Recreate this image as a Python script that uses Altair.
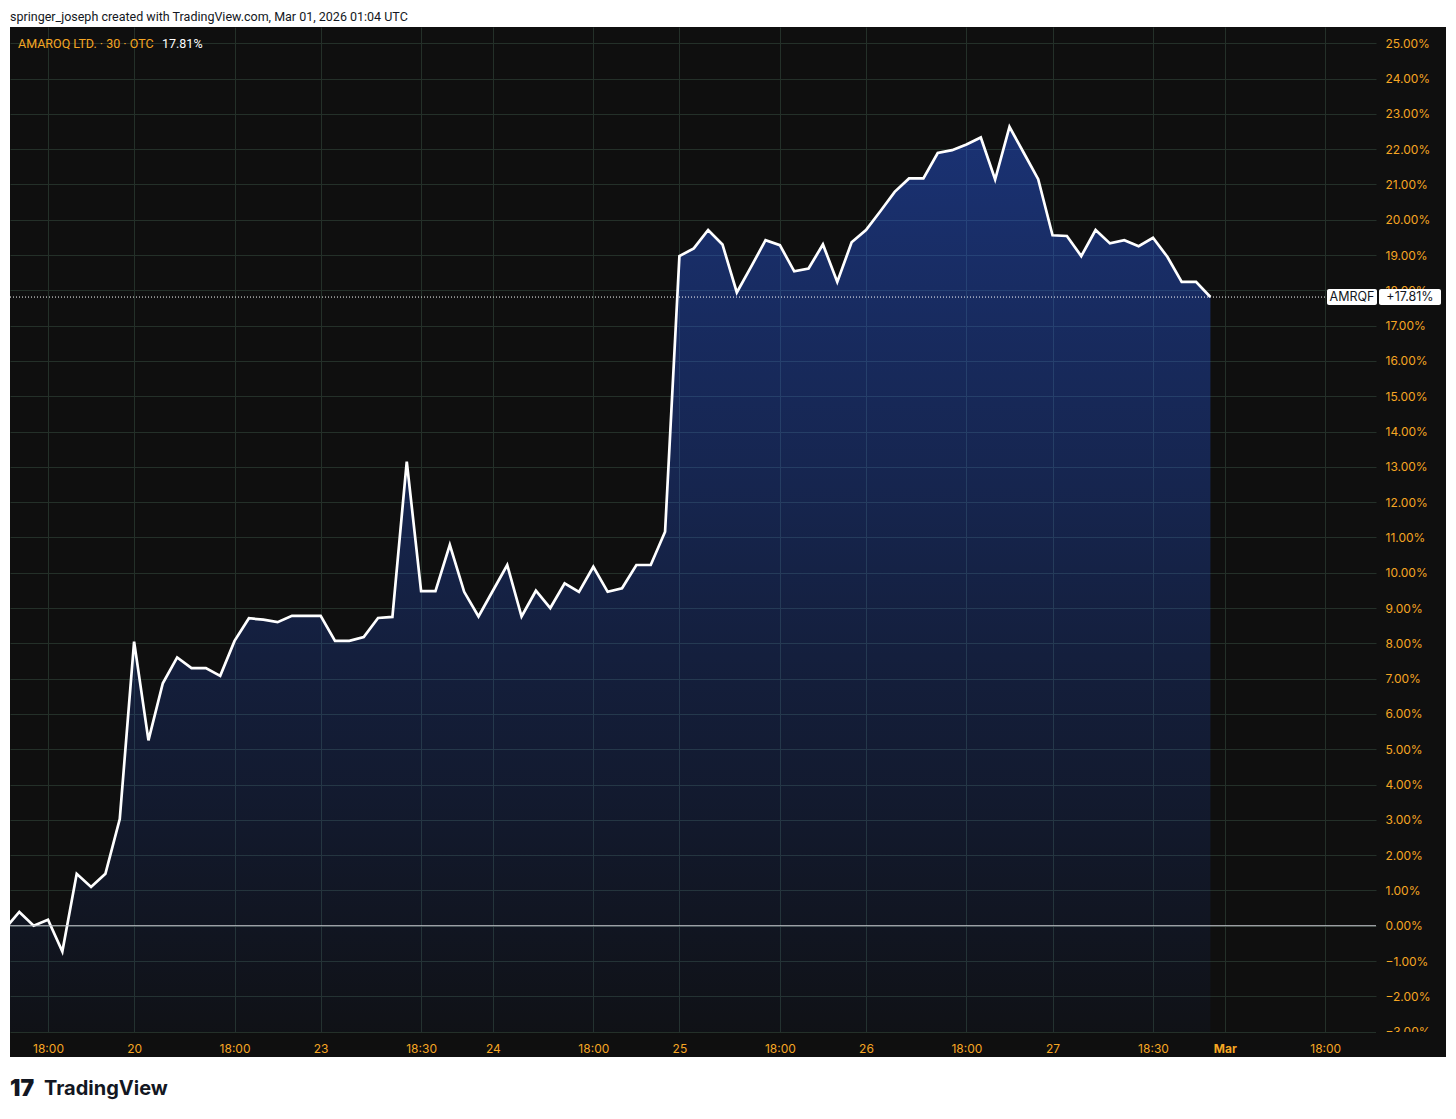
import altair as alt
import pandas as pd

# ---------------- data ----------------
IDX = list(range(85))
PCT = [-0.09, 0.39, 0.00, 0.17, -0.73, 1.47, 1.10, 1.47, 3.02, 8.05,
       5.25, 6.87, 7.60, 7.30, 7.30, 7.08, 8.07, 8.71, 8.67, 8.60,
       8.78, 8.78, 8.78, 8.07, 8.07, 8.18, 8.72, 8.75, 13.15, 9.48,
       9.48, 10.79, 9.46, 8.76, 9.49, 10.22, 8.76, 9.49, 9.00, 9.70,
       9.46, 10.17, 9.46, 9.56, 10.22, 10.22, 11.16, 18.97, 19.19, 19.71,
       19.30, 17.94, 18.67, 19.42, 19.28, 18.54, 18.62, 19.30, 18.24, 19.36,
       19.71, 20.24, 20.79, 21.17, 21.17, 21.89, 21.97, 22.13, 22.33, 21.14,
       22.63, 21.89, 21.15, 19.56, 19.54, 18.97, 19.71, 19.33, 19.42, 19.25,
       19.49, 18.95, 18.24, 18.24, 17.81]
TICK_IDX = [3, 9, 16, 22, 29, 34, 41, 47, 54, 60, 67, 73, 80, 85, 92]
TICK_LABELS = ["18:00", "20", "18:00", "23", "18:30", "24", "18:00", "25",
               "18:00", "26", "18:00", "27", "18:30", "Mar", "18:00"]
BOLD_TICK = 85
Y_TICKS = list(range(-3, 26))
LAST = 17.81
SYMBOL = "AMRQF"
LEGEND_NAME = "AMAROQ LTD. · 30 · OTC"
TITLE = "springer_joseph created with TradingView.com, Mar 01, 2026 01:04 UTC"

X_DOMAIN = [0.352, 95.54]
Y_DOMAIN = [-3.01, 25.46]

# ---------------- style ----------------
W, H = 1366, 1005
BG = "#0f0f0f"
GRID = "#243029"
ORANGE = "#f5a623"
FONT = "Inter"
FONT2 = "Roboto"

df = pd.DataFrame({"i": IDX, "pct": PCT})
one = pd.DataFrame({"v": [LAST]})
zero = pd.DataFrame({"v": [0.0]})
dummy = pd.DataFrame({"a": [0]})

lab_arr = "[" + ",".join("'" + s + "'" for s in TICK_LABELS) + "]"
idx_arr = "[" + ",".join(str(v) for v in TICK_IDX) + "]"
x_label_expr = f"{lab_arr}[indexof({idx_arr}, datum.value)]"
y_label_expr = ("datum.value < 0 ? '\u2212' + format(-datum.value, '.2f') + '%' "
                ": format(datum.value, '.2f') + '%'")

xscale = alt.Scale(domain=X_DOMAIN, nice=False, zero=False)
yscale = alt.Scale(domain=Y_DOMAIN, nice=False, zero=False)

xaxis = alt.Axis(values=TICK_IDX, labelExpr=x_label_expr, title=None,
                 grid=True, gridColor=GRID, gridWidth=1, ticks=False, domain=False,
                 labelColor=ORANGE, labelFont=FONT, labelFontSize=12,
                 labelFontWeight={"condition": {"test": f"datum.value == {BOLD_TICK}", "value": "bold"},
                                  "value": "normal"},
                 labelPadding=16, labelBaseline="middle", labelFlush=False,
                 labelOverlap=False)
yaxis = alt.Axis(values=Y_TICKS, labelExpr=y_label_expr, title=None, orient="right",
                 grid=True, gridColor=GRID, gridWidth=1, ticks=False, domain=False,
                 labelColor=ORANGE, labelFont=FONT, labelFontSize=12,
                 labelAlign="left", labelPadding=9, labelFlush=False, labelOverlap=False,
                 labelSeparation=0)


def Yf(field):
    return alt.Y(field, scale=yscale, axis=yaxis)


def Xf(field):
    return alt.X(field, scale=xscale, axis=xaxis)


gradient = alt.Gradient(
    gradient="linear",
    stops=[alt.GradientStop(color="rgba(41,98,255,0.42)", offset=0),
           alt.GradientStop(color="rgba(41,98,255,0.03)", offset=1)],
    x1=1, x2=1, y1=0, y2=1,
)

area = alt.Chart(df).mark_area(clip=True, color=gradient).encode(
    x=Xf("i:Q"), y=Yf("pct:Q"), y2=alt.datum(Y_DOMAIN[0]),
)
line = alt.Chart(df).mark_line(clip=True, color="white", strokeWidth=2.7).encode(
    x=Xf("i:Q"), y=Yf("pct:Q"))

zero_rule = alt.Chart(zero).mark_rule(color="#c8cad0", strokeWidth=1).encode(y=Yf("v:Q"))
dot_rule = alt.Chart(one).mark_rule(color="white", strokeWidth=1, strokeDash=[1, 2]).encode(
    y=Yf("v:Q"), x=alt.value(0), x2=alt.value(1317))

# masks / decoration
white_top = alt.Chart(dummy).mark_rect(color="white", clip=False).encode(
    x=alt.value(-2), x2=alt.value(W + 70), y=alt.value(-19), y2=alt.value(0))
white_left = alt.Chart(dummy).mark_rect(color="white", clip=False).encode(
    x=alt.value(-2), x2=alt.value(0), y=alt.value(-19), y2=alt.value(H + 75))
white_bottom = alt.Chart(dummy).mark_rect(color="white", clip=False).encode(
    x=alt.value(-2), x2=alt.value(W + 70), y=alt.value(H + 25), y2=alt.value(H + 75))
dark_corner = alt.Chart(dummy).mark_rect(color=BG, clip=False).encode(
    x=alt.value(W), x2=alt.value(W + 70), y=alt.value(H), y2=alt.value(H + 25))

box1 = alt.Chart(one).mark_rect(color="white", cornerRadius=2, yOffset=-8, y2Offset=8,
                                clip=False).encode(
    y=Yf("v:Q"), y2="v:Q", x=alt.value(1317), x2=alt.value(1367))
box2 = alt.Chart(one).mark_rect(color="white", cornerRadius=2, yOffset=-8, y2Offset=8,
                                clip=False).encode(
    y=Yf("v:Q"), y2="v:Q", x=alt.value(1369), x2=alt.value(1431))
box_t1 = alt.Chart(one).mark_text(color="#131722", font=FONT, fontSize=12.5,
                                  align="center", baseline="middle", clip=False).encode(
    y=Yf("v:Q"), x=alt.value(1342), text=alt.value(SYMBOL))
box_t2 = alt.Chart(one).mark_text(color="#131722", font=FONT, fontSize=12.5,
                                  align="center", baseline="middle", clip=False).encode(
    y=Yf("v:Q"), x=alt.value(1400), text=alt.value(f"+{LAST:.2f}%"))

title_t = alt.Chart(dummy).mark_text(color="#131722", font=FONT2, fontSize=12.5,
                                     align="left", baseline="middle", clip=False).encode(
    x=alt.value(0), y=alt.value(-10), text=alt.value(TITLE))
legend_t1 = alt.Chart(dummy).mark_text(color=ORANGE, font=FONT2, fontSize=12.5,
                                       align="left", baseline="middle").encode(
    x=alt.value(8), y=alt.value(17), text=alt.value(LEGEND_NAME))
legend_t2 = alt.Chart(dummy).mark_text(color="white", font=FONT2, fontSize=12.5,
                                       align="left", baseline="middle").encode(
    x=alt.value(152), y=alt.value(17), text=alt.value(f"{LAST:.2f}%"))
logo_icon = alt.Chart(dummy).mark_text(color="#131722", font=FONT, fontSize=23,
                                       fontWeight=900, align="left", baseline="middle",
                                       clip=False).encode(
    x=alt.value(0), y=alt.value(H + 57), text=alt.value("17"))
logo_t = alt.Chart(dummy).mark_text(color="#131722", font=FONT, fontSize=20,
                                    fontWeight="bold", align="left", baseline="middle",
                                    clip=False).encode(
    x=alt.value(34), y=alt.value(H + 57), text=alt.value("TradingView"))

chart = alt.layer(
    area, line, zero_rule, dot_rule,
    white_top, white_left, white_bottom, dark_corner,
    box1, box2, box_t1, box_t2,
    title_t, legend_t1, legend_t2, logo_icon, logo_t,
).properties(
    width=W, height=H,
    background=BG,
    padding={"left": 2, "top": 19, "right": 70, "bottom": 75},
    autosize=alt.AutoSizeParams(type="none"),
).configure_view(strokeWidth=0).configure_axis(labelOverlap=False, labelSeparation=0)

chart.save("out.html", embed_options={"renderer": "svg", "actions": False})
